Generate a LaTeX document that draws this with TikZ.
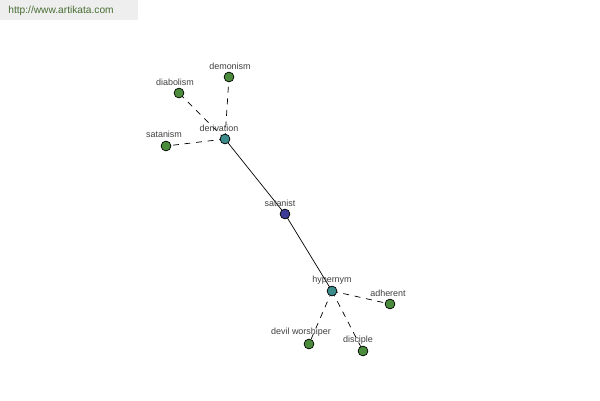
\documentclass[tikz,border=0pt]{standalone}
\usepackage{fontspec}
\setmainfont{Liberation Sans}
\definecolor{leafgreen}{RGB}{74,140,60}
\definecolor{relteal}{RGB}{60,140,140}
\definecolor{rootblue}{RGB}{60,60,150}
\definecolor{bannergray}{RGB}{238,238,238}
\definecolor{bannertext}{RGB}{72,110,50}
\tikzset{
    leaf/.style={circle, draw=black, fill=leafgreen, inner sep=0pt, minimum size=5.6pt},
    rel/.style={leaf, fill=relteal},
    root/.style={leaf, fill=rootblue},
    lbl/.style={font=\fontsize{5.1}{6}\selectfont, text=black!75, inner sep=0pt},
    link/.style={dash pattern=on 3.4pt off 3.2pt}
}
\begin{document}
\begin{tikzpicture}[x=0.02cm, y=-0.02cm]
    \useasboundingbox (0,0) rectangle (600,400);

    % --- Banner ---
    \fill[bannergray] (0,0) rectangle (138,20);
    \node[font=\fontsize{5.8}{7}\selectfont, text=bannertext, anchor=west, inner sep=0pt] (site) at (8,10.5) {http://www.artikata.com};

    % --- Coordinates ---
    \coordinate (satanist) at (285,214);
    \coordinate (derivation) at (225,139);
    \coordinate (hypernym) at (332,291);
    \coordinate (demonism) at (229,77);
    \coordinate (diabolism) at (179,93);
    \coordinate (satanism) at (166,146);
    \coordinate (adherent) at (390,304);
    \coordinate (worshiper) at (309,344);
    \coordinate (disciple) at (363,351);

    % --- Lines ---
    \draw (satanist) -- (derivation);
    \draw (satanist) -- (hypernym);
    \draw[link] (derivation) -- (demonism);
    \draw[link] (derivation) -- (diabolism);
    \draw[link] (derivation) -- (satanism);
    \draw[link] (hypernym) -- (adherent);
    \draw[link] (hypernym) -- (worshiper);
    \draw[link] (hypernym) -- (disciple);

    % --- Points ---
    \node[root] (n-satanist) at (satanist) {};
    \node[rel] (n-derivation) at (derivation) {};
    \node[rel] (n-hypernym) at (hypernym) {};
    \node[leaf] (n-demonism) at (demonism) {};
    \node[leaf] (n-diabolism) at (diabolism) {};
    \node[leaf] (n-satanism) at (satanism) {};
    \node[leaf] (n-adherent) at (adherent) {};
    \node[leaf] (n-worshiper) at (worshiper) {};
    \node[leaf] (n-disciple) at (disciple) {};

    % --- Points Labels ---
    \node[lbl] (l-satanist) at (280,203) {satanist};
    \node[lbl] (l-derivation) at (219,128) {derivation};
    \node[lbl] (l-hypernym) at (332,280) {hypernym};
    \node[lbl] (l-demonism) at (230,66) {demonism};
    \node[lbl] (l-diabolism) at (175,82) {diabolism};
    \node[lbl] (l-satanism) at (164,134) {satanism};
    \node[lbl] (l-adherent) at (388,293) {adherent};
    \node[lbl] (l-worshiper) at (301,332) {devil worshiper};
    \node[lbl] (l-disciple) at (358,340) {disciple};
\end{tikzpicture}
\end{document}
